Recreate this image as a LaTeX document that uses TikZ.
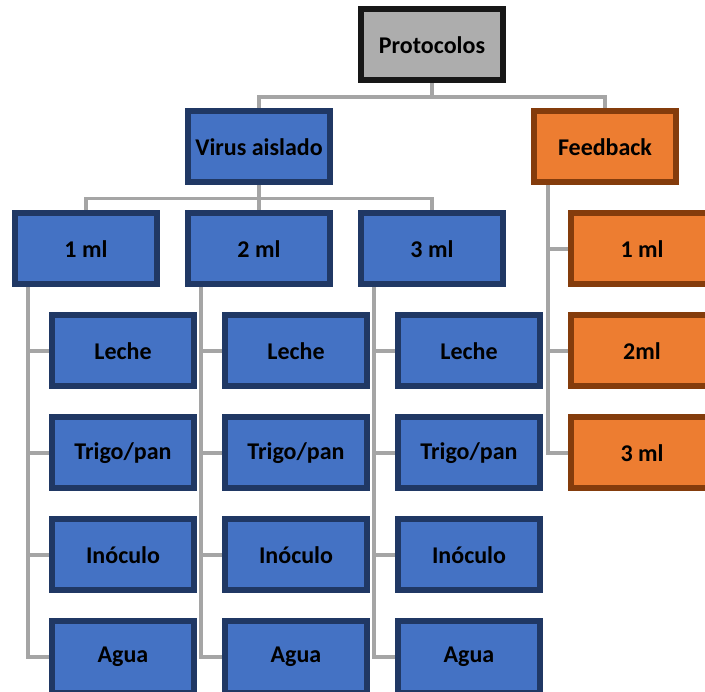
\documentclass[tikz,border=0pt]{standalone}
\usepackage{fontspec}
\setmainfont{Carlito}
\usetikzlibrary{backgrounds}
\definecolor{bluefill}{HTML}{4472C4}
\definecolor{blueline}{HTML}{203864}
\definecolor{orfill}{HTML}{ED7D31}
\definecolor{orline}{HTML}{843C0C}
\definecolor{gyfill}{HTML}{ADADAD}
\definecolor{gyline}{HTML}{171717}
\definecolor{conncol}{HTML}{A5A5A5}
\tikzset{
  box/.style={draw, line width=6pt, minimum width=142pt, minimum height=71pt,
    inner sep=0pt, font=\fontsize{24}{29}\selectfont\bfseries, text=black},
  bluebox/.style={box, fill=bluefill, draw=blueline},
  orbox/.style={box, fill=orfill, draw=orline},
  gybox/.style={box, fill=gyfill, draw=gyline},
  conn/.style={draw=conncol, line width=3.5pt}
}
\begin{document}
\begin{tikzpicture}[x=1pt,y=-1pt]
\useasboundingbox (0,0) rectangle (705,692);
\clip (0,0) rectangle (705,692);
% level 0 and 1
\node[gybox] (P) at (432,45) {Protocolos};
\node[bluebox] (V) at (259,147) {Virus aislado};
\node[orbox] (F) at (605,147) {Feedback};
% level 2
\node[bluebox] (A) at (86,249) {1 ml};
\node[bluebox] (B) at (259,249) {2 ml};
\node[bluebox] (C) at (432,249) {3 ml};
\node[orbox] (F1) at (642,249) {1 ml};
\node[orbox] (F2) at (642,351) {2ml};
\node[orbox] (F3) at (642,453) {3 ml};
% level 3
\foreach \col/\cx in {A/123,B/296,C/469}{
  \node[bluebox] (\col1) at (\cx,351) {Leche};
  \node[bluebox] (\col2) at (\cx,453) {Trigo/pan};
  \node[bluebox] (\col3) at (\cx,555) {Inóculo};
  \node[bluebox] (\col4) at (\cx,657) {Agua};
}
\foreach \col in {A,B,C}{
  \coordinate (\col T) at ([xshift=-58pt]\col.south);
}
\coordinate (FT) at ([xshift=-57pt]F.south);
\begin{scope}[on background layer]
  \coordinate (PV) at (0,97);
  \draw[conn] (P.south) -- (P.south |- PV) -| (V.north);
  \draw[conn] (P.south |- PV) -| (F.north);
  \coordinate (VL) at (0,198.5);
  \draw[conn] (V.south) -- (V.south |- VL) -| (A.north);
  \draw[conn] (V.south |- VL) -| (C.north);
  \draw[conn] (V.south |- VL) -- (B.north);
  \foreach \col in {A,B,C}{
    \draw[conn] (\col T) |- (\col4.west);
    \foreach \k in {1,2,3}{
      \draw[conn] (\col\k.west) -- (\col\k.west -| \col T);
    }
  }
  \draw[conn] (FT) |- (F3.west);
  \draw[conn] (F1.west) -- (F1.west -| FT);
  \draw[conn] (F2.west) -- (F2.west -| FT);
\end{scope}
\end{tikzpicture}
\end{document}
